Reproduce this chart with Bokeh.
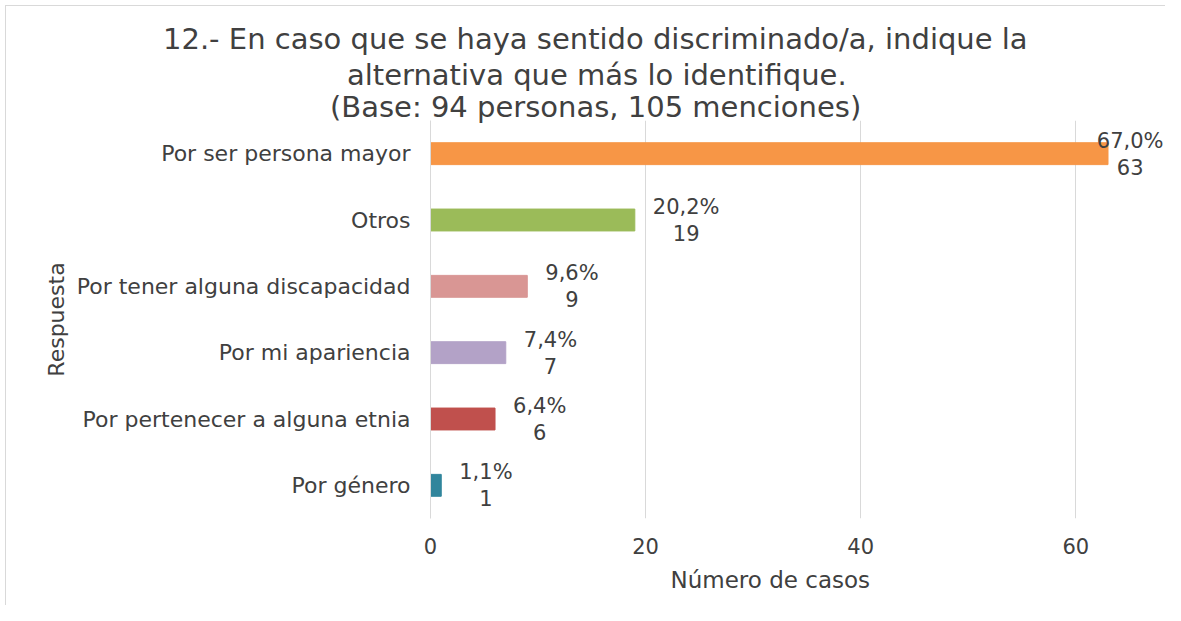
from bokeh.plotting import figure
from bokeh.models import ColumnDataSource, FactorRange, Range1d, LabelSet, FixedTicker, Title
from bokeh.core.properties import value
from bokeh.embed import file_html
from bokeh.resources import INLINE

# ---- data ----
categories = [
    "Por ser persona mayor",
    "Otros",
    "Por tener alguna discapacidad",
    "Por mi apariencia",
    "Por pertenecer a alguna etnia",
    "Por género",
]
counts = [63, 19, 9, 7, 6, 1]
percent_labels = ["67,0%", "20,2%", "9,6%", "7,4%", "6,4%", "1,1%"]
bar_colors = ["#F79646", "#9BBB59", "#D99694", "#B3A2C7", "#C0504D", "#31859C"]
x_ticks = [0, 20, 40, 60]
title_lines = [
    "12.- En caso que se haya sentido discriminado/a, indique la",
    "alternativa que más lo identifique.",
    "(Base: 94 personas, 105 menciones)",
]
x_title = "Número  de casos"
y_title = "Respuesta"

# ---- layout constants ----
W, H = 1165, 605
B_LEFT, B_RIGHT, B_TOP, B_BOTTOM = 430, 0, 120, 87
FRAME_W = W - B_LEFT - B_RIGHT
PX_PER_UNIT = 10.754
X_END = FRAME_W / PX_PER_UNIT
TXT = "#404040"
FONT = "DejaVu Sans"
LBL_SIZE = 21
TITLE_SIZE = 29
TITLE_WIDTHS = [865, 497, 531]   # rendered widths at TITLE_SIZE
TITLE_STANDOFFS = [0, 0, -7]
TITLE_CENTER = 595               # canvas px
RIGHT_LIMIT = W - 2              # canvas px limit for data labels


def est_width(s, size):
    w = 0.0
    for ch in s:
        if ch.isdigit():
            w += 0.636
        elif ch == ",":
            w += 0.318
        elif ch == "%":
            w += 0.95
        else:
            w += 0.6
    return w * size


offsets = []
for v, s in zip(counts, percent_labels):
    w = est_width(s, LBL_SIZE)
    end_px = B_LEFT + v * PX_PER_UNIT
    off = 18 + w / 2
    if end_px + 18 + w > RIGHT_LIMIT:
        off = RIGHT_LIMIT - w / 2 - end_px
    offsets.append(off)

src = ColumnDataSource(dict(
    cat=categories, count=counts, pct=percent_labels,
    color=bar_colors, cnt_txt=[str(c) for c in counts], xoff=offsets,
))

p = figure(
    width=W, height=H,
    y_range=FactorRange(factors=categories[::-1], range_padding=0),
    x_range=Range1d(0, X_END),
    output_backend="svg", toolbar_location=None,
    min_border_left=B_LEFT, min_border_right=B_RIGHT,
    min_border_top=B_TOP, min_border_bottom=B_BOTTOM,
)
p.styles = {"box-shadow": "inset 5px 5px 0 0 #ffffff, inset 6px 6px 0 0 #d9d9d9"}

p.hbar(y="cat", right="count", left=0, height=0.33, color="color",
       line_color="color", source=src)

p.add_layout(LabelSet(x="count", y="cat", text="pct", source=src,
                      x_offset="xoff", y_offset=13, text_align="center",
                      text_baseline="middle", text_font_size=value(f"{LBL_SIZE}px"),
                      text_font=value(FONT), text_color=TXT))
p.add_layout(LabelSet(x="count", y="cat", text="cnt_txt", source=src,
                      x_offset="xoff", y_offset=-13, text_align="center",
                      text_baseline="middle", text_font_size=value(f"{LBL_SIZE}px"),
                      text_font=value(FONT), text_color=TXT))


# title: three single-line titles, outermost is p.title
def style_title(t, i):
    t.text = title_lines[i]
    t.align = "left"
    t.offset = TITLE_CENTER - TITLE_WIDTHS[i] / 2 - B_LEFT
    t.text_font = FONT
    t.text_font_size = f"{TITLE_SIZE}px"
    t.text_font_style = "normal"
    t.text_color = TXT
    t.standoff = TITLE_STANDOFFS[i]


style_title(p.title, 0)
for i in (2, 1):
    t = Title()
    style_title(t, i)
    p.add_layout(t, "above")

# axes
p.xaxis.ticker = FixedTicker(ticks=x_ticks)
p.xaxis.axis_line_color = None
p.xaxis.major_tick_line_color = None
p.xaxis.minor_tick_line_color = None
p.xaxis.major_label_standoff = 13
p.xaxis.major_label_text_font = FONT
p.xaxis.major_label_text_font_size = "21px"
p.xaxis.major_label_text_color = TXT

xt = Title(text=x_title, align="left", offset=670 - B_LEFT, text_font=FONT,
           text_font_size="23px", text_font_style="normal", text_color=TXT,
           standoff=17)
p.add_layout(xt, "below")

p.yaxis.axis_line_color = "#d9d9d9"
p.yaxis.major_tick_line_color = None
p.yaxis.minor_tick_line_color = None
p.yaxis.major_label_standoff = 14
p.yaxis.major_label_text_font = FONT
p.yaxis.major_label_text_font_size = "22px"
p.yaxis.major_label_text_color = TXT
p.yaxis.axis_label = y_title
p.yaxis.axis_label_text_font = FONT
p.yaxis.axis_label_text_font_size = "22px"
p.yaxis.axis_label_text_font_style = "normal"
p.yaxis.axis_label_text_color = TXT
p.yaxis.axis_label_standoff = 5

p.xgrid.grid_line_color = "#d9d9d9"
p.xgrid.grid_line_width = 1
p.ygrid.grid_line_color = None
p.outline_line_color = None
p.background_fill_color = "white"
p.border_fill_color = None

open("out.html", "w").write(file_html(p, INLINE))
